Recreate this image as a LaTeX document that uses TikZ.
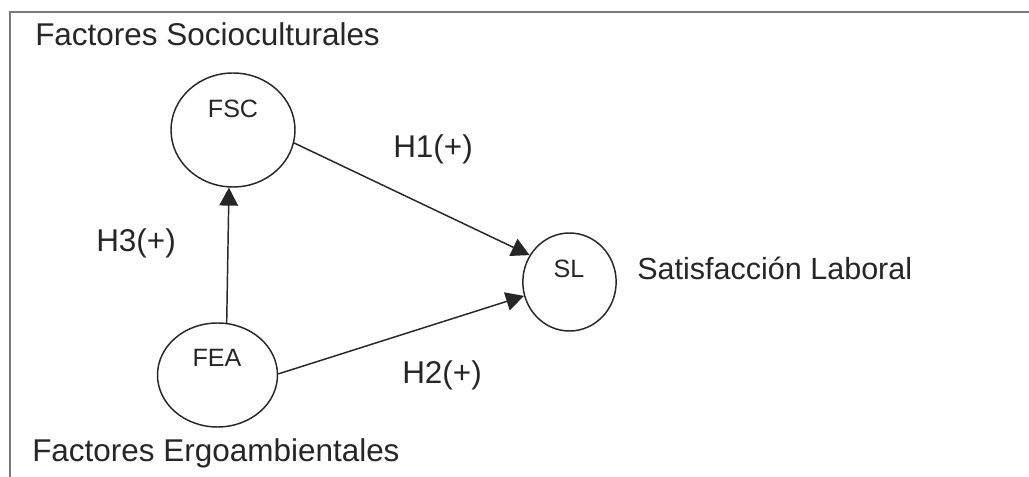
\documentclass[tikz,border=0pt]{standalone}
\usepackage{fontspec}
\setmainfont{Liberation Sans}
\usetikzlibrary{shapes.geometric,arrows.meta}
\definecolor{ink}{HTML}{262626}
\definecolor{framec}{HTML}{7A7A7A}
\tikzset{
  bigtxt/.style={inner sep=0pt, anchor=base west, text=ink, font=\fontsize{23.6}{28}\selectfont},
  smalltxt/.style={inner sep=0pt, anchor=base, text=ink, font=\fontsize{18.8}{22}\selectfont},
  latent/.style={ellipse, draw=ink, line width=1.1pt, inner sep=0pt},
  path/.style={draw=ink, line width=1.1pt, -{Triangle[length=13.5pt,width=14pt]}},
  frameline/.style={draw=framec, line width=1.6pt}
}
\begin{document}
\begin{tikzpicture}[x=0.75pt,y=-0.75pt]
\useasboundingbox (0,0) rectangle (1029,477);
% frame (top and left edges)
\coordinate (ftr) at (1029,12);
\coordinate (ftl) at (10,12);
\coordinate (fbl) at (10,477);
\draw[frameline] (ftr) -- (ftl) -- (fbl);
% latent variables
\node[latent, minimum width=93pt, minimum height=85.5pt] (fsc) at (233,130) {};
\node[latent, minimum width=90pt, minimum height=78pt] (fea) at (217.5,375) {};
\node[latent, minimum width=70pt, minimum height=73.5pt] (sl) at (569.5,282) {};
\node[smalltxt] (fscT) at (233,118) {FSC};
\node[smalltxt] (feaT) at (217,367) {FEA};
\node[smalltxt] (slT) at (569,278) {SL};
% paths
\draw[path] (fsc.-12) -- (sl.146);
\draw[path] (fea.1) -- (sl.197);
\draw[path] (fea.80) -- (fsc.266);
% labels
\node[bigtxt] (lfsc) at (35,46) {Factores Socioculturales};
\node[bigtxt] (lfea) at (32,461) {Factores Ergoambientales};
\node[bigtxt, font=\fontsize{22.9}{27}\selectfont] (lsl) at (637,280) {Satisfacción Laboral};
\node[bigtxt] (h1) at (393,158) {H1(+)};
\node[bigtxt] (h2) at (402,384) {H2(+)};
\node[bigtxt] (h3) at (96,252) {H3(+)};
\end{tikzpicture}
\end{document}
